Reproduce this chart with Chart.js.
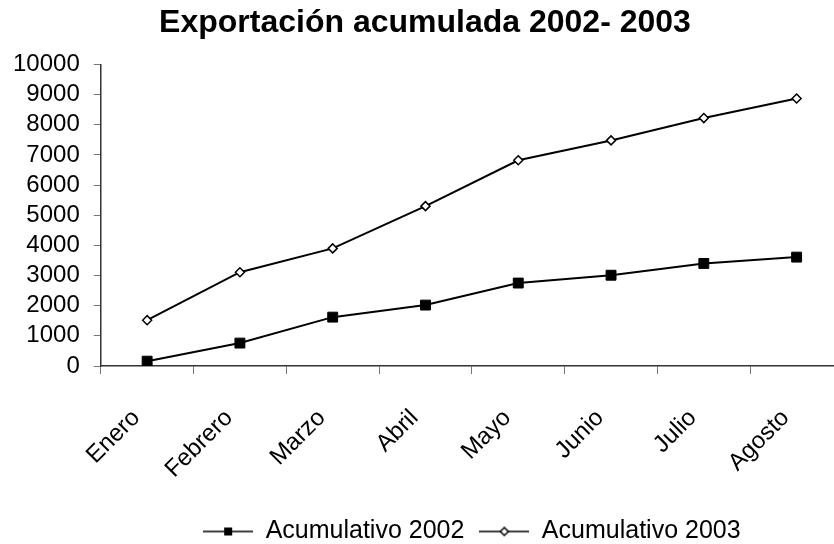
<!DOCTYPE html>
<html>
<head>
<meta charset="utf-8">
<script src="https://cdn.jsdelivr.net/npm/chart.js@4/dist/chart.umd.min.js"></script>
<style>
  html, body { margin: 0; padding: 0; background: #fff; overflow: hidden; }
  canvas { display: block; }
</style>
</head>
<body>
<!-- a bit wider than the window: the x axis runs off the right edge like the original -->
<canvas id="js--chart" width="851" height="544"></canvas>
<script>
const months = ["Enero", "Febrero", "Marzo", "Abril", "Mayo", "Junio", "Julio", "Agosto"];
const acum2002 = [160, 760, 1620, 2020, 2750, 3010, 3400, 3610];
const acum2003 = [1520, 3110, 3900, 5300, 6820, 7480, 8220, 8870];
const yTicks = [0, 1000, 2000, 3000, 4000, 5000, 6000, 7000, 8000, 9000, 10000];

// little line+marker pictures for the legend
function legendIcon(kind) {
  const c = document.createElement("canvas");
  c.width = 50;
  c.height = 14;
  const ctx = c.getContext("2d");
  ctx.strokeStyle = "#000";
  ctx.lineWidth = 1.5;
  ctx.beginPath();
  ctx.moveTo(0, 7);
  ctx.lineTo(50, 7);
  ctx.stroke();
  if (kind === "square") {
    ctx.fillStyle = "#000";
    ctx.fillRect(21, 3, 8, 8);
  } else {
    ctx.fillStyle = "#fff";
    ctx.beginPath();
    ctx.moveTo(25, 3);
    ctx.lineTo(29, 7);
    ctx.lineTo(25, 11);
    ctx.lineTo(21, 7);
    ctx.closePath();
    ctx.fill();
    ctx.stroke();
  }
  return c;
}

const icons = [legendIcon("square"), legendIcon("diamond")];

const data = {
  labels: months,
  datasets: [
    {
      label: "Acumulativo 2002",
      data: acum2002,
      borderColor: "#000",
      backgroundColor: "#000",
      borderWidth: 2,
      pointStyle: "rect",
      pointRadius: 7,
      pointBorderWidth: 1,
      pointBackgroundColor: "#000",
      pointBorderColor: "#000",
      tension: 0,
    },
    {
      label: "Acumulativo 2003",
      data: acum2003,
      borderColor: "#000",
      backgroundColor: "#fff",
      borderWidth: 2,
      pointStyle: "rectRot",
      pointRadius: 4.5,
      pointBorderWidth: 1.5,
      pointBackgroundColor: "#fff",
      pointBorderColor: "#000",
      tension: 0,
    },
  ],
};

const config = {
  type: "line",
  data: data,
  options: {
    responsive: false,
    animation: false,
    layout: { padding: { top: 0, right: 0, left: -1, bottom: -10 } },
    plugins: {
      title: {
        display: true,
        text: "Exportación acumulada 2002- 2003",
        color: "#000",
        font: { family: "Liberation Sans", size: 32, weight: "bold" },
        padding: { top: 4, bottom: 22 },
      },
      legend: {
        position: "bottom",
        fullSize: false,
        labels: {
          color: "#000",
          font: { family: "Liberation Sans", size: 25 },
          usePointStyle: true,
          pointStyleWidth: 50,
          padding: 15,
          generateLabels: function (chart) {
            return chart.data.datasets.map(function (ds, i) {
              return {
                text: ds.label,
                pointStyle: icons[i],
                fillStyle: "#000",
                strokeStyle: "#000",
                lineWidth: 0,
                fontColor: "#000",
                datasetIndex: i,
                hidden: false,
              };
            });
          },
        },
      },
      tooltip: { enabled: false },
    },
    scales: {
      x: {
        offset: true,
        afterFit: function (scale) {
          scale.height = 138;
          scale.paddingLeft = 0;
        },
        grid: {
          offset: true,
          drawOnChartArea: false,
          tickLength: 8,
          color: "#777",
        },
        border: { color: "#333", width: 1.5 },
        ticks: {
          color: "#000",
          font: { family: "Liberation Sans", size: 24 },
          minRotation: 45,
          maxRotation: 45,
          autoSkip: false,
          padding: 30,
          labelOffset: -11,
        },
      },
      y: {
        min: 0,
        max: 10000,
        afterBuildTicks: function (axis) {
          axis.ticks = yTicks.map(function (v) { return { value: v }; });
        },
        grid: {
          drawOnChartArea: false,
          tickLength: 7,
          color: "#777",
        },
        border: { color: "#333", width: 1.5 },
        ticks: {
          color: "#000",
          font: { family: "Liberation Sans", size: 24 },
          padding: 14,
          autoSkip: false,
          callback: function (value) {
            return String(value);
          },
        },
      },
    },
  },
};

new Chart(document.getElementById("js--chart"), config);
</script>
</body>
</html>
